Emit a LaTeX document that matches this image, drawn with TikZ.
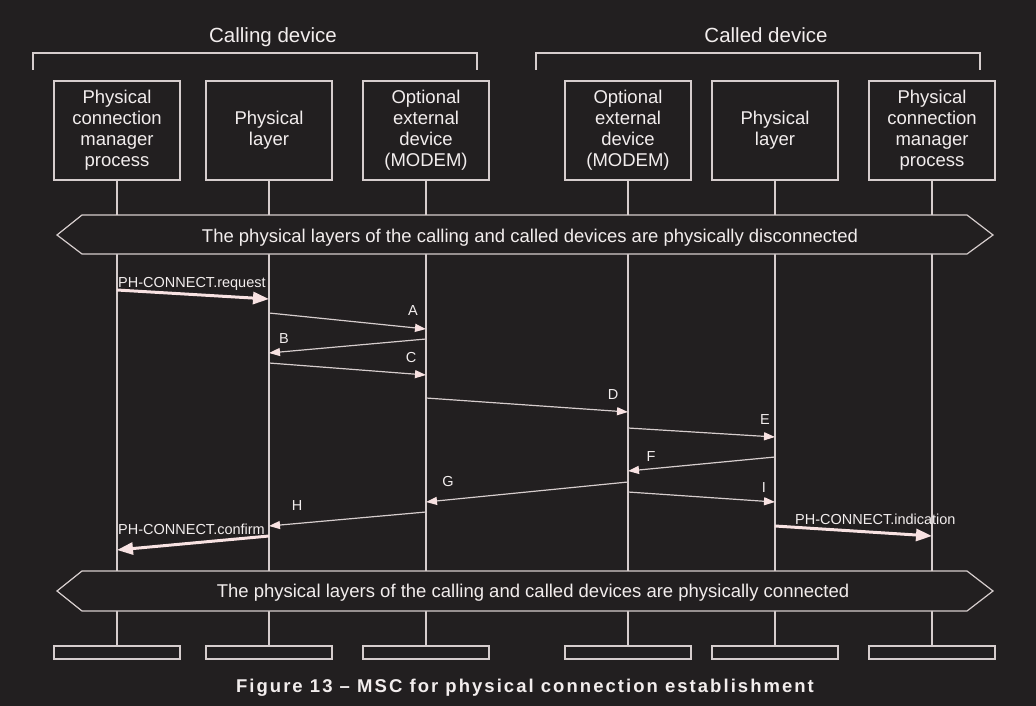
\documentclass[tikz,border=0pt]{standalone}
\usepackage{fontspec}
\setmainfont{Liberation Sans}
\newfontfamily\captionfont[LetterSpace=11]{Liberation Sans Bold}
\usetikzlibrary{arrows.meta}

\definecolor{bgdark}{RGB}{34,31,32}
\definecolor{linegray}{RGB}{214,205,205}
\definecolor{tippink}{RGB}{248,226,226}
\definecolor{textwhite}{RGB}{242,237,237}

\begin{document}
\begin{tikzpicture}[
        x=1pt, y=-1pt,
        every node/.style={text=textwhite},
        head/.style={
            rectangle,
            draw=linegray, fill=bgdark, line width=1.2pt,
            minimum width=126pt, minimum height=99pt,
            inner sep=0pt, align=center,
            font=\fontsize{18.5}{21}\selectfont
        },
        tail/.style={
            rectangle,
            draw=linegray, line width=1.2pt,
            minimum width=126pt, minimum height=13pt,
            inner sep=0pt
        },
        life/.style={draw=linegray, line width=1.2pt},
        msg/.style={
            draw=linegray, line width=1.2pt,
            -{Triangle[length=11pt, width=8pt, color=tippink]}
        },
        bigmsg/.style={
            draw=tippink, line width=3pt,
            -{Triangle[length=16pt, width=12pt]}
        },
        lbl/.style={anchor=base, inner sep=0pt, font=\fontsize{14.5}{16}\selectfont},
        cond/.style={draw=linegray, fill=bgdark, line width=1.2pt}
    ]

    % (0,0) at left top corner, one unit per pixel
    \useasboundingbox (0,0) rectangle (1036,706);
    \fill[bgdark] (0,0) rectangle (1036,706);

    % (name, x, text)
    \def\lifelines{%
        callpcm/117/{Physical\\connection\\manager\\process},
        callphy/269/{Physical\\layer},
        callmod/426/{Optional\\external\\device\\(MODEM)},
        calledmod/628/{Optional\\external\\device\\(MODEM)},
        calledphy/775/{Physical\\layer},
        calledpcm/932/{Physical\\connection\\manager\\process}%
    }

    % instance heads, ends and lifelines
    \foreach \name/\x/\txt in \lifelines {
        \node[head] (\name) at (\x,130.5) {\txt};
        \node[tail] (\name end) at (\x,652.5) {};
        \draw[life] (\name.south) -- (\name end.north);
    }

    % --- conditions ---
    \draw[cond] (57,235) -- (82,215) -- (967,215) -- (993,235) -- (967,254) -- (82,254) -- cycle;
    \node[anchor=base, font=\fontsize{18.5}{21}\selectfont] (disconn) at (530,242)
        {The physical layers of the calling and called devices are physically disconnected};

    \draw[cond] (57,591) -- (82,571) -- (967,571) -- (993,591) -- (967,611) -- (82,611) -- cycle;
    \node[anchor=base, font=\fontsize{18.5}{21}\selectfont] (conn) at (533,597)
        {The physical layers of the calling and called devices are physically connected};

    % (from, y, to, y)
    \def\messages{%
        callphy/313/callmod/329,
        callmod/339/callphy/353,
        callphy/363/callmod/375,
        callmod/398/calledmod/412,
        calledmod/428/calledphy/437,
        calledphy/457/calledmod/471,
        calledmod/482/callmod/502,
        calledmod/492/calledphy/502,
        callmod/512/callphy/526%
    }

    \foreach \a/\ya/\b/\yb in \messages {
        \draw[msg] (\a |- 0,\ya) -- (\b |- 0,\yb);
    }

    % (letter, x, baseline)
    \def\labels{%
        A/413/315, B/284/343, C/411/362, D/613/399, E/765/424,
        F/651/461, G/448/486, I/764/492, H/297/510%
    }

    \foreach \l/\x/\y in \labels {
        \node[lbl] (msg\l) at (\x,\y) {\l};
    }

    % --- primitives ---
    \draw[bigmsg] (callpcm |- 0,290) -- (callphy |- 0,299);
    \node[lbl, anchor=base west] (req) at (118,287) {PH-CONNECT.request};

    \draw[bigmsg] (callphy |- 0,536) -- (callpcm |- 0,550);
    \node[lbl, anchor=base west] (conf) at (118,534) {PH-CONNECT.confirm};

    \draw[bigmsg] (calledphy |- 0,526) -- (calledpcm |- 0,536);
    \node[lbl, anchor=base west] (ind) at (795,524) {PH-CONNECT.indication};

    % --- device brackets ---
    \draw[life] (33,70) -- (33,53) -- (477,53) -- (477,70);
    \node[anchor=base, font=\fontsize{20.5}{24}\selectfont] (calling) at (273,43) {Calling device};

    \draw[life] (536,70) -- (536,53) -- (980,53) -- (980,70);
    \node[anchor=base, font=\fontsize{20.5}{24}\selectfont] (called) at (766,43) {Called device};

    % caption
    \node[anchor=base, font=\captionfont\fontsize{18.5}{20}\selectfont] (caption) at (525,692)
        {Figure 13 – MSC for physical connection establishment};

\end{tikzpicture}
\end{document}
